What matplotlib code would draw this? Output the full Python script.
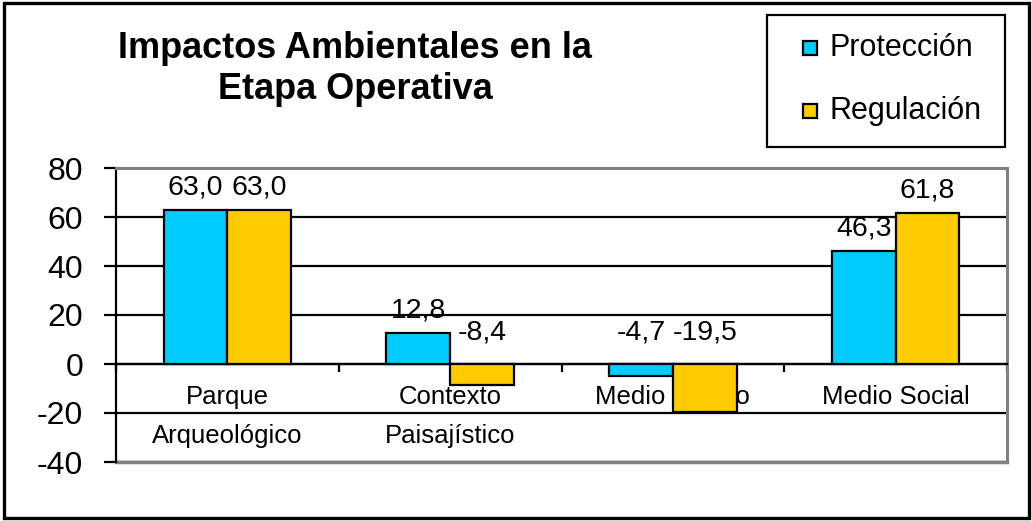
import numpy as np
import matplotlib
matplotlib.use("Agg")
import matplotlib.pyplot as plt
from matplotlib.patches import Rectangle
from matplotlib.ticker import FixedLocator

plt.rcParams['font.family'] = ['Liberation Sans', 'DejaVu Sans']
plt.rcParams['axes.unicode_minus'] = False

# datos del grafico
categorias = ["Parque\nArqueológico", "Contexto\nPaisajístico", "Medio Biótico", "Medio Social"]
series = ["Protección", "Regulación"]
proteccion = [63.0, 12.8, -4.7, 46.3]
regulacion = [63.0, -8.4, -19.5, 61.8]
colores = ["#00CCFF", "#FFCC00"]

W, H = 1032, 521
fx = lambda p: p / W          # pixel -> fraccion de figura
fy = lambda p: 1 - p / H

fig = plt.figure(figsize=(W / 100, H / 100), dpi=100)
ax = fig.add_axes([fx(116), fy(462), fx(1007) - fx(116), fy(168) - fy(462)])

x = np.arange(len(categorias))
ancho = 1 / 3.5  # gap width 150%
for i, (vals, col) in enumerate(zip([proteccion, regulacion], colores)):
    pos = x + (i - 0.5) * ancho
    ax.bar(pos, vals, ancho, color=col, edgecolor='black', linewidth=1.6, zorder=3)
    for xp, v in zip(pos, vals):
        txt = "{:.1f}".format(v).replace('.', ',')
        off = 16 if v >= 0 else 23
        ax.annotate(txt, (xp, max(v, 0)), xytext=(0, off), textcoords='offset points',
                    ha='center', va='center', fontsize=20.5, zorder=4)

ax.set_xlim(-0.5, len(categorias) - 0.5)
ax.set_ylim(-40, 80)
ax.set_yticks(np.arange(-40, 81, 20))
ax.set_axisbelow(True)
ax.yaxis.grid(True, color='black', linewidth=1.6)

# eje x sobre el cero, marcas entre categorias
ax.spines['bottom'].set_position(('data', 0))
ax.spines['bottom'].set_linewidth(1.6)
ax.spines['left'].set_linewidth(1.6)
for s in ['top', 'right']:
    ax.spines[s].set_color('#808080')
    ax.spines[s].set_linewidth(2.2)
ax.axhline(-40, color='#808080', linewidth=2.5, zorder=2.5, clip_on=False)

ax.set_xticks(x)
ax.set_xticklabels(categorias, fontsize=18.5, linespacing=1.8)
ax.xaxis.set_minor_locator(FixedLocator(np.arange(-0.5, len(categorias), 1)))
ax.tick_params(axis='x', which='major', length=0, pad=15)
ax.tick_params(axis='x', which='minor', length=6, width=1.6, direction='out')
ax.tick_params(axis='y', length=8.6, width=1.6, labelsize=23, pad=15)

# titulo
fig.text(fx(355), fy(69), "Impactos Ambientales en la\nEtapa Operativa", ha='center', va='center',
         fontsize=26, fontweight='bold', linespacing=1.25)

# leyenda
fig.add_artist(Rectangle((fx(767), fy(147)), fx(1005) - fx(767), fy(15) - fy(147),
                         transform=fig.transFigure, fill=False, edgecolor='black', linewidth=1.6))
for nombre, col, yc in zip(series, colores, [48, 111]):
    fig.add_artist(Rectangle((fx(803), fy(yc + 7)), fx(14), 14 / H,
                             transform=fig.transFigure, facecolor=col, edgecolor='black', linewidth=1.6))
    fig.text(fx(829), fy(yc), nombre, ha='left', va='center', fontsize=22)

# marco exterior
fig.add_artist(Rectangle((fx(3.5), fy(517.5)), fx(1028.5) - fx(3.5), fy(2.5) - fy(517.5),
                         transform=fig.transFigure, fill=False, edgecolor='black', linewidth=2.4))

plt.savefig("out.png", dpi=100)
